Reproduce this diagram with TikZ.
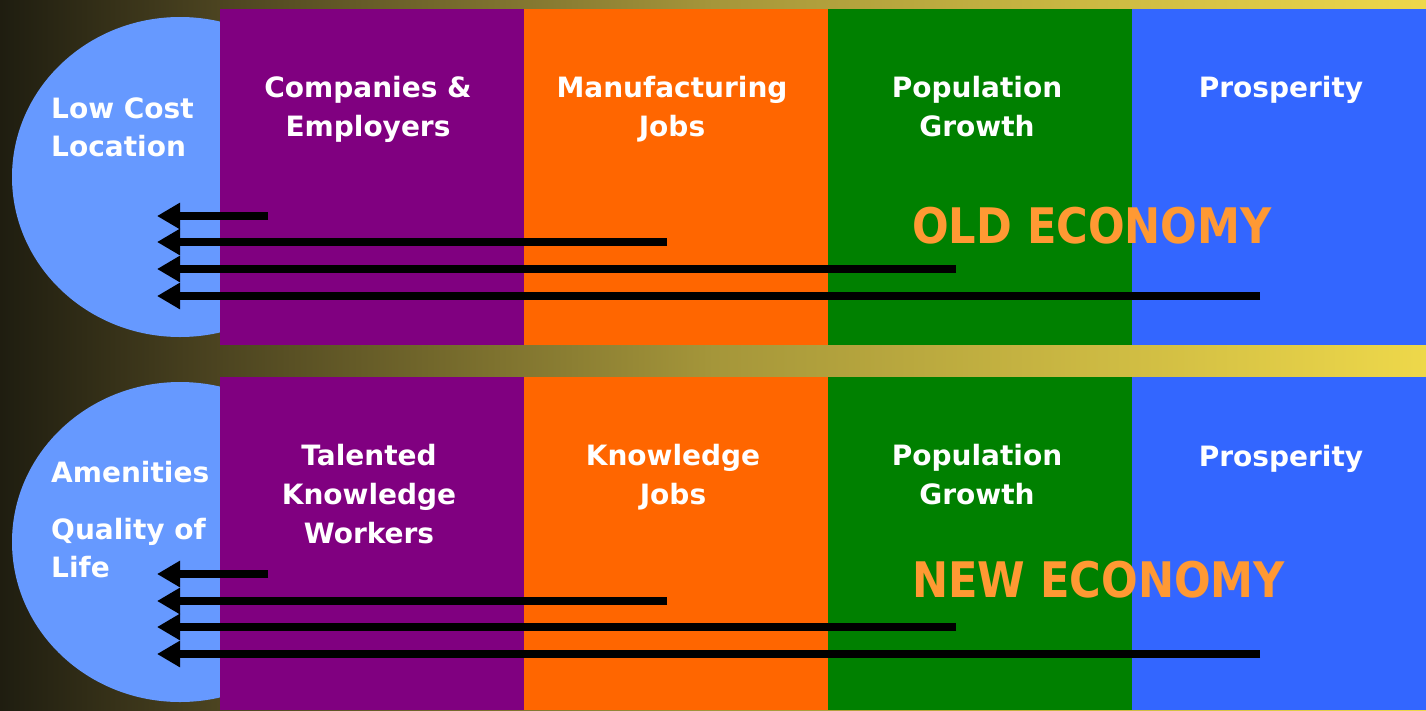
\documentclass[tikz,border=0pt]{standalone}
\usepackage{fontspec}
\setmainfont{DejaVu Sans}
\usepackage{graphicx}
\usetikzlibrary{arrows.meta}
\definecolor{cpurple}{RGB}{128,0,128}
\definecolor{corange}{RGB}{255,102,0}
\definecolor{cgreen}{RGB}{0,128,0}
\definecolor{cblue}{RGB}{51,102,255}
\definecolor{cell}{RGB}{102,153,255}
\definecolor{econ}{RGB}{255,153,51}
\pgfdeclarehorizontalshading{bgshade}{100bp}{rgb(0bp)=(0.12,0.114,0.063); rgb(25bp)=(0.12,0.114,0.063); rgb(32.5bp)=(0.294,0.263,0.125); rgb(50bp)=(0.647,0.588,0.227); rgb(75bp)=(0.933,0.847,0.29); rgb(100bp)=(0.933,0.847,0.29)}
\tikzset{
  lbl/.style={anchor=base, align=center, inner sep=0pt, text=white, font=\fontsize{28}{39}\selectfont\bfseries},
  lbll/.style={anchor=base west, align=left, inner sep=0pt, text=white, font=\fontsize{28}{38}\selectfont\bfseries},
  econlbl/.style={anchor=base west, inner sep=0pt, text=econ, font=\fontsize{49}{55}\selectfont\bfseries},
  arr/.style={line width=7.5pt, draw=black, -{Triangle[length=23pt,width=25pt]}},
  ell/.style={fill=cell, draw=none}
}
\begin{document}
\begin{tikzpicture}[x=1pt,y=-1pt]
\useasboundingbox (0,0) rectangle (1426,710);
\fill[shading=bgshade] (0,0) rectangle (1426,710);
% ellipses
\fill[ell] (180,177) ellipse [x radius=168pt, y radius=160pt];
\fill[ell] (180,542) ellipse [x radius=168pt, y radius=160pt];
% top panel
\fill[cpurple] (220,9) rectangle (524,345);
\fill[corange] (524,9) rectangle (828,345);
\fill[cgreen] (828,9) rectangle (1132,345);
\fill[cblue] (1132,9) rectangle (1426,345);
% bottom panel
\fill[cpurple] (220,377) rectangle (524,710);
\fill[corange] (524,377) rectangle (828,710);
\fill[cgreen] (828,377) rectangle (1132,710);
\fill[cblue] (1132,377) rectangle (1426,710);
% top labels (anchor = baseline of last line)
\node[lbll] (lowcost) at (51,156) {Low Cost\\Location};
\node[lbl] (companies) at (368,136) {Companies \&\\Employers};
\node[lbl] (manuf) at (672,136) {Manufacturing\\Jobs};
\node[lbl] (popA) at (977,136) {Population\\Growth};
\node[lbl] (prospA) at (1281,97) {Prosperity};
\node[econlbl] (old) at (912,243) {\scalebox{0.88}[1]{OLD ECONOMY}};
% bottom labels
\node[lbll] (amen) at (51,482) {Amenities};
\node[lbll] (qual) at (51,577) {Quality of\\Life};
\node[lbl] (talent) at (369,543) {Talented\\Knowledge\\Workers};
\node[lbl] (kjobs) at (673,504) {Knowledge\\Jobs};
\node[lbl] (popB) at (977,504) {Population\\Growth};
\node[lbl] (prospB) at (1281,466) {Prosperity};
\node[econlbl] (new) at (912,597) {\scalebox{0.88}[1]{NEW ECONOMY}};
% arrow coordinates top
\coordinate (ta1s) at (268,216); \coordinate (ta1e) at (157,216);
\coordinate (ta2s) at (667,242); \coordinate (ta2e) at (157,242);
\coordinate (ta3s) at (956,269); \coordinate (ta3e) at (157,269);
\coordinate (ta4s) at (1260,296); \coordinate (ta4e) at (157,296);
\draw[arr] (ta1s) -- (ta1e);
\draw[arr] (ta2s) -- (ta2e);
\draw[arr] (ta3s) -- (ta3e);
\draw[arr] (ta4s) -- (ta4e);
% arrow coordinates bottom
\coordinate (ba1s) at (268,574); \coordinate (ba1e) at (157,574);
\coordinate (ba2s) at (667,601); \coordinate (ba2e) at (157,601);
\coordinate (ba3s) at (956,627); \coordinate (ba3e) at (157,627);
\coordinate (ba4s) at (1260,654); \coordinate (ba4e) at (157,654);
\draw[arr] (ba1s) -- (ba1e);
\draw[arr] (ba2s) -- (ba2e);
\draw[arr] (ba3s) -- (ba3e);
\draw[arr] (ba4s) -- (ba4e);
\end{tikzpicture}
\end{document}
